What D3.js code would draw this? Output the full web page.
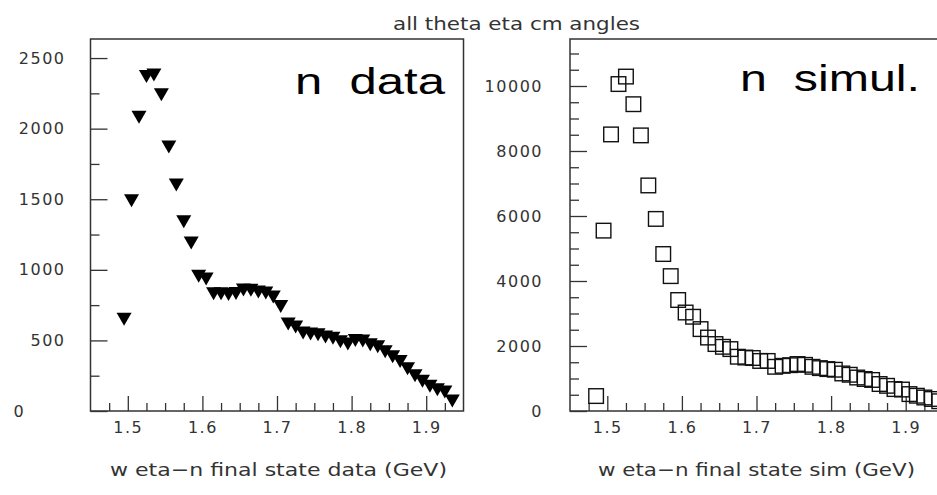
<!DOCTYPE html>
<html>
<head>
<meta charset="utf-8">
<script src="https://cdn.jsdelivr.net/npm/d3@7"></script>
<style>
  body { margin: 0; background: #fff; }
  svg { display: block; }
  .tick text { font-family: "DejaVu Sans", sans-serif; font-size: 16px; letter-spacing: 1.5px; fill: #333; }
  .name { white-space: pre; }
</style>
</head>
<body>
<div id="chart"></div>
<script>
// w (GeV) bin centres and counts, data panel
const dataX = [1.495,1.505,1.515,1.525,1.535,1.545,1.555,1.565,1.575,1.585,
  1.595,1.605,1.615,1.625,1.635,1.645,1.655,1.665,1.675,1.685,
  1.695,1.705,1.715,1.725,1.735,1.745,1.755,1.765,1.775,1.785,
  1.795,1.805,1.815,1.825,1.835,1.845,1.855,1.865,1.875,1.885,
  1.895,1.905,1.915,1.925,1.935];
const dataY = [650,1490,2080,2370,2380,2240,1870,1600,1340,1190,
  955,935,830,830,825,832,857,855,843,835,
  807,740,616,595,552,545,540,525,515,490,
  475,500,495,470,455,420,385,350,300,250,
  210,175,150,135,70];

// simulation panel
const simX = [1.485,1.495,1.505,1.515,1.525,1.535,1.545,1.555,1.565,1.575,
  1.585,1.595,1.605,1.615,1.625,1.635,1.645,1.655,1.665,1.675,
  1.685,1.695,1.705,1.715,1.725,1.735,1.745,1.755,1.765,1.775,
  1.785,1.795,1.805,1.815,1.825,1.835,1.845,1.855,1.865,1.875,
  1.885,1.895,1.905,1.915,1.925,1.935,1.945];
const simY = [460,5550,8510,10060,10290,9440,8480,6940,5910,4830,
  4150,3415,3030,2900,2520,2260,2060,1975,1905,1670,
  1645,1630,1540,1540,1360,1390,1410,1445,1420,1360,
  1320,1290,1270,1155,1115,1030,985,955,830,775,
  675,660,520,470,415,370,300];

const xMajor = [1.5, 1.6, 1.7, 1.8, 1.9];
const xMinor = [1.475,1.525,1.55,1.575,1.625,1.65,1.675,1.725,1.75,1.775,1.825,1.85,1.875,1.925];
const dataYMajor = [0, 500, 1000, 1500, 2000, 2500];
const dataYMinor = [250, 750, 1250, 1750, 2250];
const simYMajor = [0, 2000, 4000, 6000, 8000, 10000];
const simYMinor = [500,1000,1500,2500,3000,3500,4500,5000,5500,6500,7000,7500,8500,9000,9500,10500,11000];

const W = 937, H = 495;
const frameTop = 39, frameBottom = 411;

const svg = d3.select('#chart').append('svg')
    .attr('width', W).attr('height', H);

svg.append('text')
    .attr('x', 393).attr('y', 30)
    .attr('textLength', 247).attr('lengthAdjust', 'spacingAndGlyphs')
    .attr('font-family', 'DejaVu Sans, sans-serif').attr('font-size', 17)
    .attr('fill', '#333')
    .text('all theta eta cm angles');

function panel(left, right, yMax, yMajor, yMinor, labelPad, xs, ys, marker, name, nameX, nameW, nameY, title, titleX, titleW) {
  const x = d3.scaleLinear().domain([1.45, 1.95]).range([left, right]);
  const y = d3.scaleLinear().domain([0, yMax]).range([frameBottom, frameTop]);
  const g = svg.append('g');

  // minor ticks
  g.append('g').attr('transform', `translate(${left},0)`)
      .call(d3.axisLeft(y).tickValues(yMinor).tickSize(-9).tickFormat(''));
  g.append('g').attr('transform', `translate(0,${frameBottom})`)
      .call(d3.axisBottom(x).tickValues(xMinor).tickSize(-8).tickFormat(''));

  // major ticks
  const ya = g.append('g').attr('transform', `translate(${left},0)`)
      .call(d3.axisLeft(y).tickValues(yMajor).tickSize(-17).tickPadding(labelPad).tickFormat(d3.format('d')));
  g.append('g').attr('transform', `translate(0,${frameBottom})`)
      .call(d3.axisBottom(x).tickValues(xMajor).tickSize(-15).tickPadding(11).tickFormat(d3.format('.1f')));

  g.selectAll('.domain').remove();
  g.selectAll('.tick line').attr('stroke', '#333').attr('stroke-width', 1.3);

  g.append('rect')
      .attr('x', left).attr('y', frameTop)
      .attr('width', right - left).attr('height', frameBottom - frameTop)
      .attr('fill', 'none').attr('stroke', '#333').attr('stroke-width', 1.5);

  const pts = xs.map((v, i) => ({x: v, y: ys[i]}));
  if (marker === 'tri') {
    g.selectAll('path.pt').data(pts).join('path')
        .attr('class', 'pt')
        .attr('d', d => {
          const cx = x(d.x), cy = y(d.y);
          return `M${cx - 7.5},${cy - 6.5}L${cx + 7.5},${cy - 6.5}L${cx},${cy + 6.5}Z`;
        })
        .attr('fill', '#000');
  } else {
    g.selectAll('rect.pt').data(pts).join('rect')
        .attr('class', 'pt')
        .attr('x', d => x(d.x) - 7.3).attr('y', d => y(d.y) - 7.3)
        .attr('width', 14.6).attr('height', 14.6)
        .attr('fill', 'none').attr('stroke', '#111').attr('stroke-width', 1.4);
  }

  g.append('text')
      .attr('class', 'name')
      .attr('x', nameX).attr('y', nameY)
      .attr('textLength', nameW).attr('lengthAdjust', 'spacingAndGlyphs')
      .attr('font-family', 'Liberation Sans, Arial, sans-serif').attr('font-size', 37)
      .attr('fill', '#000')
      .text(name);

  g.append('text')
      .attr('x', titleX).attr('y', 476)
      .attr('textLength', titleW).attr('lengthAdjust', 'spacingAndGlyphs')
      .attr('font-family', 'DejaVu Sans, sans-serif').attr('font-size', 18)
      .attr('fill', '#333')
      .text(title);

  return ya;
}

const leftAxis = panel(90.5, 463.5, 2635, dataYMajor, dataYMinor, 25, dataX, dataY, 'tri',
    'n  data', 295, 150, 94, 'w eta\u2212n final state data (GeV)', 110, 337);
// zero label on the data panel sits to the far left
leftAxis.selectAll('.tick').filter(d => d === 0).select('text')
    .attr('text-anchor', 'start').attr('x', -77);

panel(570, 943, 11446, simYMajor, simYMinor, 27, simX, simY, 'sq',
    'n  simul.', 740, 180, 91, 'w eta\u2212n final state sim (GeV)', 598, 317);
</script>
</body>
</html>
